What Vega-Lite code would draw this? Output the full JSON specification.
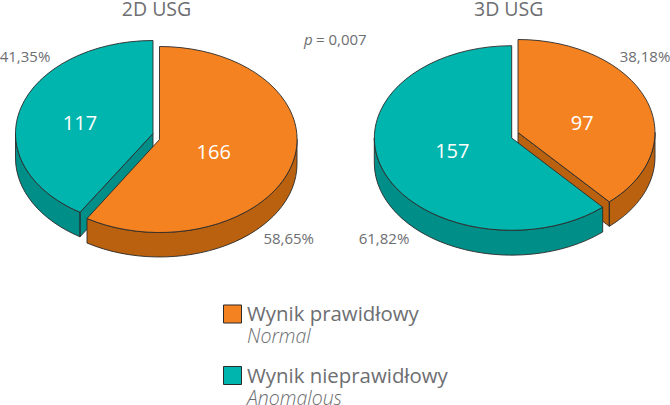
{"$schema":"https://vega.github.io/schema/vega-lite/v6.json","width":670,"height":405,"padding":0,"autosize":"none","background":"white","view":{"stroke":null},
"config":{"text":{"font":"Open Sans","color":"#6d6e71"}},
"data":{"values":[
{"chart":"2D USG","result":"Wynik nieprawidłowy","resultEn":"Anomalous","slice":"2D anomalous","count":117,"percent":"41,35%"},
{"chart":"2D USG","result":"Wynik prawidłowy","resultEn":"Normal","slice":"2D normal","count":166,"percent":"58,65%"},
{"chart":"3D USG","result":"Wynik prawidłowy","resultEn":"Normal","slice":"3D normal","count":97,"percent":"38,18%"},
{"chart":"3D USG","result":"Wynik nieprawidłowy","resultEn":"Anomalous","slice":"3D anomalous","count":157,"percent":"61,82%"}
]},
"encoding":{"x":{"field":"chart","type":"nominal","axis":null,"scale":{"type":"point","domain":["2D USG","3D USG"],"range":[159.5,511.7],"padding":0}}},
"layer":[
{"mark":{"type":"point","filled":true,"opacity":1,"size":4,"stroke":"#2a2a2a","strokeWidth":0.9},
"encoding":{"y":{"value":139},
"color":{"field":"result","type":"nominal","legend":null,"scale":{"domain":["Wynik prawidłowy","Wynik nieprawidłowy"],"range":["#b9610f","#008f88"]}},
"shape":{"field":"slice","type":"nominal","legend":null,"scale":{"domain":["2D anomalous","2D normal","3D normal","3D anomalous"],"range":[
"M-144 -5.5A137.5 93 0 0 0 -79.5 73.3L-79.5 97.8A137.5 93 0 0 1 -144 19ZM-6.5 -5.5L-79.5 73.3L-79.5 97.8L-6.5 19Z",
"M137.5 .5A137.5 93 0 0 1 -72.5 79.5L-72.5 104A137.5 93 0 0 0 137.5 25Z",
"M143.3 -6.5A137 93 0 0 1 97.6 62.8L97.6 87.3A137 93 0 0 0 143.3 18ZM6.3 -6.5L97.6 62.8L97.6 87.3L6.3 18Z",
"M-137.4 -1A137.4 92.3 0 0 0 91 68.2L91 93A137.4 92.3 0 0 1 -137.4 24Z"]}}}},
{"mark":{"type":"point","filled":true,"opacity":1,"size":4,"stroke":"#2a2a2a","strokeWidth":0.9},
"encoding":{"y":{"value":139},
"color":{"field":"result","type":"nominal","legend":null,"scale":{"domain":["Wynik prawidłowy","Wynik nieprawidłowy"],"range":["#f58220","#00b5ad"]}},
"shape":{"field":"slice","type":"nominal","legend":null,"scale":{"domain":["2D anomalous","2D normal","3D normal","3D anomalous"],"range":[
"M-6.5 -5.5L-6.5 -98.5A137.5 93 0 0 0 -79.5 73.3Z",
"M0 .5L0 -92.5A137.5 93 0 1 1 -72.5 79.5Z",
"M6.3 -6.5L6.3 -99.5A137 93 0 0 1 97.6 62.8Z",
"M0 -1L0 -93.3A137.4 92.3 0 1 0 91 68.2Z"]}}}},
{"transform":[{"filter":"datum.result=='Wynik prawidłowy'"}],"mark":{"type":"text","fontSize":19.5,"dx":-3,"align":"center","baseline":"alphabetic"},"encoding":{"y":{"value":16},"text":{"field":"chart"}}},
{"transform":[{"filter":"datum.slice=='2D anomalous'"}],"mark":{"type":"text","fontSize":20,"color":"white","dx":-79.5,"align":"center","baseline":"alphabetic"},"encoding":{"y":{"value":130},"text":{"field":"count"}}},
{"transform":[{"filter":"datum.slice=='2D normal'"}],"mark":{"type":"text","fontSize":20,"color":"white","dx":54.2,"align":"center","baseline":"alphabetic"},"encoding":{"y":{"value":158.7},"text":{"field":"count"}}},
{"transform":[{"filter":"datum.slice=='3D normal'"}],"mark":{"type":"text","fontSize":20,"color":"white","dx":70.6,"align":"center","baseline":"alphabetic"},"encoding":{"y":{"value":129.7},"text":{"field":"count"}}},
{"transform":[{"filter":"datum.slice=='3D anomalous'"}],"mark":{"type":"text","fontSize":20,"color":"white","dx":-59.4,"align":"center","baseline":"alphabetic"},"encoding":{"y":{"value":158},"text":{"field":"count"}}},
{"transform":[{"filter":"datum.slice=='2D anomalous'"}],"mark":{"type":"text","fontSize":15,"dx":-134.5,"align":"center","baseline":"alphabetic"},"encoding":{"y":{"value":62},"text":{"field":"percent"}}},
{"transform":[{"filter":"datum.slice=='2D normal'"}],"mark":{"type":"text","fontSize":15,"dx":129.2,"align":"center","baseline":"alphabetic"},"encoding":{"y":{"value":244},"text":{"field":"percent"}}},
{"transform":[{"filter":"datum.slice=='3D normal'"}],"mark":{"type":"text","fontSize":15,"dx":133.3,"align":"center","baseline":"alphabetic"},"encoding":{"y":{"value":62},"text":{"field":"percent"}}},
{"transform":[{"filter":"datum.slice=='3D anomalous'"}],"mark":{"type":"text","fontSize":15,"dx":-127.7,"align":"center","baseline":"alphabetic"},"encoding":{"y":{"value":244},"text":{"field":"percent"}}},
{"data":{"values":[{"label":"p"}]},"mark":{"type":"text","fontSize":15,"fontStyle":"italic","align":"left","baseline":"alphabetic"},"encoding":{"x":{"value":304},"y":{"value":45},"text":{"field":"label"}}},
{"data":{"values":[{"label":"= 0,007"}]},"mark":{"type":"text","fontSize":15,"align":"left","baseline":"alphabetic"},"encoding":{"x":{"value":316},"y":{"value":45},"text":{"field":"label"}}},
{"transform":[{"filter":"datum.chart=='2D USG'"}],"mark":{"type":"point","shape":"square","filled":true,"opacity":1,"size":325,"stroke":"#2a2a2a","strokeWidth":1},
"encoding":{"x":{"value":232.5},"y":{"field":"result","type":"nominal","axis":null,"scale":{"type":"point","domain":["Wynik prawidłowy","Wynik nieprawidłowy"],"range":[314,375.5],"padding":0}},
"color":{"field":"result","type":"nominal","legend":null,"scale":{"domain":["Wynik prawidłowy","Wynik nieprawidłowy"],"range":["#f58220","#00b5ad"]}}}},
{"transform":[{"filter":"datum.chart=='2D USG'"}],"mark":{"type":"text","fontSize":20.4,"align":"left","baseline":"alphabetic","dy":7},
"encoding":{"x":{"value":247},"y":{"field":"result","type":"nominal","axis":null,"scale":{"type":"point","domain":["Wynik prawidłowy","Wynik nieprawidłowy"],"range":[314,375.5],"padding":0}},"text":{"field":"result"}}},
{"transform":[{"filter":"datum.chart=='2D USG'"}],"mark":{"type":"text","fontSize":19.5,"fontStyle":"italic","fontWeight":300,"align":"left","baseline":"alphabetic","dy":29},
"encoding":{"x":{"value":247},"y":{"field":"result","type":"nominal","axis":null,"scale":{"type":"point","domain":["Wynik prawidłowy","Wynik nieprawidłowy"],"range":[314,375.5],"padding":0}},"text":{"field":"resultEn"}}}
],
"resolve":{"scale":{"color":"independent","shape":"independent"}}}
